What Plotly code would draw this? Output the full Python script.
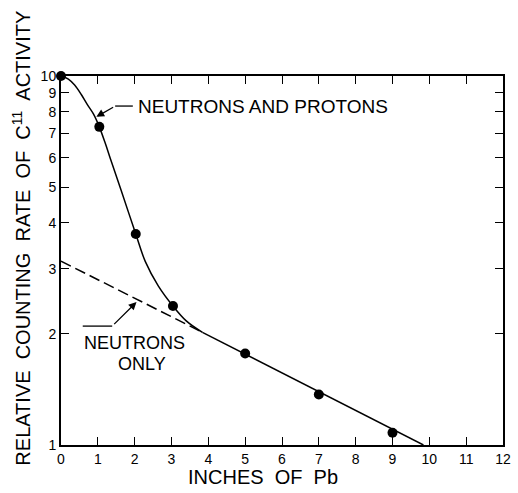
import numpy as np
import plotly.graph_objects as go

# measured data points (inches of Pb, relative counting rate)
pts_x = [0, 1.04, 2.03, 3.04, 5.0, 7.0, 9.0]
pts_y = [10, 7.28, 3.73, 2.38, 1.77, 1.37, 1.08]

# hand-drawn curve: neutrons and protons
curve_x = [0, 0.2, 0.37, 0.55, 0.72, 0.88, 1.04, 1.2, 1.36, 1.63, 2.03, 2.29, 2.64, 3.04, 3.4, 3.84]
curve_y = [10, 9.81, 9.45, 8.91, 8.35, 7.89, 7.28, 6.58, 5.89, 4.91, 3.73, 3.14, 2.70, 2.38, 2.17, 2.02]

# straight line (neutrons only, solid part)
line_x = [3.84, 9.84]
line_y = [2.02, 1.0]

# extrapolated dashed part
dash_x = [0, 3.84]
dash_y = [3.15, 2.02]

# leader lines for labels
lead1_x = [1.47, 1.95]
lead1_y = [8.29, 8.29]
lead2_x = [0.59, 1.39]
lead2_y = [2.10, 2.10]

x_ticks = list(range(0, 13))
y_ticks = list(range(1, 11))
y_ticktext = [str(v) for v in y_ticks]

FONT = "Liberation Sans"
blk = "black"

fig = go.Figure()
fig.add_trace(go.Scatter(x=curve_x, y=curve_y, mode="lines",
                         line=dict(color=blk, width=1.5, shape="spline", smoothing=1.0)))
fig.add_trace(go.Scatter(x=line_x, y=line_y, mode="lines",
                         line=dict(color=blk, width=1.5)))
fig.add_trace(go.Scatter(x=dash_x, y=dash_y, mode="lines",
                         line=dict(color=blk, width=1.5, dash="11px,5px")))
fig.add_trace(go.Scatter(x=lead1_x, y=lead1_y, mode="lines",
                         line=dict(color=blk, width=1.3)))
fig.add_trace(go.Scatter(x=lead2_x, y=lead2_y, mode="lines",
                         line=dict(color=blk, width=1.3)))
fig.add_trace(go.Scatter(x=pts_x, y=pts_y, mode="markers",
                         marker=dict(color=blk, size=10), cliponaxis=False))

L = np.log10
annots = [
    dict(x=0.96, y=L(7.75), ax=lead1_x[0], ay=L(lead1_y[0]), axref="x", ayref="y",
         xref="x", yref="y", text=" ", showarrow=True, arrowhead=2, arrowsize=1.2,
         arrowwidth=1.3, arrowcolor=blk, font=dict(size=2)),
    dict(x=2.05, y=L(2.44), ax=lead2_x[1], ay=L(lead2_y[1]), axref="x", ayref="y",
         xref="x", yref="y", text=" ", showarrow=True, arrowhead=2, arrowsize=1.2,
         arrowwidth=1.3, arrowcolor=blk, font=dict(size=2)),
    dict(x=2.03, y=L(8.29), xref="x", yref="y", text="NEUTRONS AND PROTONS",
         showarrow=False, xanchor="left", yanchor="middle",
         font=dict(family=FONT, size=19, color=blk)),
    dict(x=1.99, y=L(1.89), xref="x", yref="y", text="NEUTRONS",
         showarrow=False, xanchor="center", yanchor="middle",
         font=dict(family=FONT, size=18, color=blk)),
    dict(x=2.19, y=L(1.66), xref="x", yref="y", text="ONLY",
         showarrow=False, xanchor="center", yanchor="middle",
         font=dict(family=FONT, size=18, color=blk)),
    dict(x=-0.089, y=0.561, xref="paper", yref="paper",
         text="RELATIVE  COUNTING  RATE  OF  C<sup>11</sup>  ACTIVITY",
         showarrow=False, textangle=-90, xanchor="center", yanchor="middle",
         font=dict(family=FONT, size=20, color=blk)),
    dict(x=0.458, y=-0.087, xref="paper", yref="paper",
         text="INCHES  OF  Pb",
         showarrow=False, xanchor="center", yanchor="middle",
         font=dict(family=FONT, size=20, color=blk)),
]

fig.update_layout(
    width=518, height=493,
    margin=dict(l=61, r=7, t=76, b=48),
    paper_bgcolor="white", plot_bgcolor="white",
    showlegend=False,
    annotations=annots,
    xaxis=dict(range=[0, 12], tickvals=x_ticks, ticktext=[str(v) for v in x_ticks],
               ticks="inside", ticklen=8, tickwidth=1.3, tickcolor=blk,
               showline=True, linecolor=blk, linewidth=2, mirror="ticks",
               showgrid=False, zeroline=False,
               tickfont=dict(family=FONT, size=14, color=blk)),
    yaxis=dict(type="log", range=[0, 1], tickvals=y_ticks, ticktext=y_ticktext,
               ticks="inside", ticklen=8, tickwidth=1.3, tickcolor=blk,
               showline=True, linecolor=blk, linewidth=2, mirror="ticks",
               showgrid=False, zeroline=False,
               tickfont=dict(family=FONT, size=14, color=blk)),
)

fig.write_html("out.html")
